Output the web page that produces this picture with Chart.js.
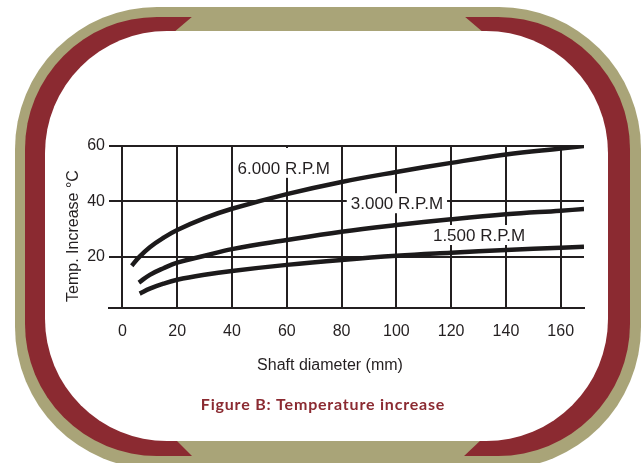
<!DOCTYPE html>
<html>
<head>
<meta charset="utf-8">
<script src="https://cdn.jsdelivr.net/npm/chart.js@4.4.1/dist/chart.umd.min.js"></script>
<style>
  html, body { margin: 0; padding: 0; background: #ffffff; overflow: hidden; }
  canvas { display: block; }
</style>
</head>
<body>
<canvas id="tempChart" width="643" height="463"></canvas>
<script>
// Leitura aproximada das curvas (diâmetro do eixo em mm -> aumento de temperatura em °C)
const rpm6000X = [3.4, 6, 10, 15, 20, 30, 40, 60, 80, 100, 120, 140, 160, 168.5];
const rpm6000Y = [16.7, 19.7, 23.4, 26.8, 29.6, 33.9, 37.3, 42.6, 47.0, 50.6, 53.9, 56.9, 59.1, 60.0];

const rpm3000X = [6.0, 10, 15, 20, 30, 40, 60, 80, 100, 120, 140, 160, 168.5];
const rpm3000Y = [10.6, 13.4, 15.8, 17.8, 20.3, 22.7, 26.0, 29.0, 31.4, 33.5, 35.3, 36.6, 37.2];

const rpm1500X = [6.3, 10, 15, 20, 30, 40, 60, 80, 100, 120, 140, 160, 168.5];
const rpm1500Y = [6.6, 8.4, 10.2, 11.6, 13.4, 14.8, 17.0, 18.8, 20.3, 21.4, 22.4, 23.2, 23.6];

const xTickValues = [0, 20, 40, 60, 80, 100, 120, 140, 160];
const yTickValues = [20, 40, 60];

const curveLabels = ['6.000 R.P.M', '3.000 R.P.M', '1.500 R.P.M'];
const curveLabelX = [58.9, 100.2, 130.2];
const curveLabelY = [52.1, 39.3, 27.8];

const INK = '#231f20';
const OLIVE = '#a9a478';
const WINE = '#8b2a31';

function toPoints(xs, ys) {
  return xs.map((x, i) => ({ x: x, y: ys[i] }));
}

function curve(xs, ys) {
  return {
    data: toPoints(xs, ys),
    borderColor: '#1c1a1b',
    borderWidth: 4.5,
    borderCapStyle: 'butt',
    pointRadius: 0,
    fill: false,
    tension: 0.4
  };
}

// moldura arredondada (oliva + vinho) atrás do gráfico
const framePlugin = {
  id: 'frame',
  beforeDraw(chart) {
    const ctx = chart.ctx;
    ctx.save();
    ctx.fillStyle = '#ffffff';
    ctx.fillRect(0, 0, chart.width, chart.height);

    ctx.fillStyle = OLIVE;
    ctx.beginPath();
    ctx.roundRect(15, 7, 626, 462, 142);
    ctx.fill();

    ctx.fillStyle = WINE;
    ctx.beginPath();
    ctx.roundRect(25, 17, 605, 439, 132);
    ctx.fill();

    // faixas oliva no meio do topo e da base
    ctx.fillStyle = OLIVE;
    ctx.beginPath();
    ctx.moveTo(193, 16); ctx.lineTo(464, 16); ctx.lineTo(484, 33); ctx.lineTo(173, 33);
    ctx.closePath();
    ctx.fill();
    ctx.beginPath();
    ctx.moveTo(175, 439); ctx.lineTo(482, 439); ctx.lineTo(463, 457); ctx.lineTo(193, 457);
    ctx.closePath();
    ctx.fill();

    ctx.fillStyle = '#ffffff';
    ctx.beginPath();
    ctx.roundRect(45, 31, 563, 410, 122);
    ctx.fill();
    ctx.restore();
  }
};

// rótulos das curvas com fundo branco + títulos
const textPlugin = {
  id: 'texts',
  beforeDatasetsDraw(chart) {
    const ctx = chart.ctx;
    const xs = chart.scales.x;
    const ys = chart.scales.y;
    ctx.save();
    ctx.font = '17px "Liberation Sans", Arial, sans-serif';
    ctx.textAlign = 'center';
    ctx.textBaseline = 'middle';
    curveLabels.forEach((txt, i) => {
      const cx = xs.getPixelForValue(curveLabelX[i]);
      const cy = ys.getPixelForValue(curveLabelY[i]);
      const w = ctx.measureText(txt).width;
      let top = cy - 10;
      if (top - chart.chartArea.top < 16) top = chart.chartArea.top + 2;
      ctx.fillStyle = '#ffffff';
      ctx.fillRect(cx - w / 2 - 4, top, w + 8, cy + 10 - top);
      ctx.fillStyle = INK;
      ctx.fillText(txt, cx, cy + 1);
    });
    ctx.restore();
  },
  afterDraw(chart) {
    const ctx = chart.ctx;
    ctx.save();
    ctx.fillStyle = INK;
    ctx.font = '16px "Liberation Sans", Arial, sans-serif';
    ctx.textAlign = 'center';
    ctx.textBaseline = 'alphabetic';
    ctx.fillText('Shaft diameter (mm)', 330, 370);

    ctx.translate(78, 236);
    ctx.rotate(-Math.PI / 2);
    ctx.fillText('Temp. Increase °C', 0, 0);
    ctx.restore();

    ctx.save();
    ctx.fillStyle = WINE;
    ctx.font = 'bold 16px Lato, "Open Sans", sans-serif';
    ctx.letterSpacing = '0.8px';
    ctx.textAlign = 'center';
    ctx.textBaseline = 'alphabetic';
    ctx.fillText('Figure B: Temperature increase', 323, 410);
    ctx.restore();
  }
};

const ctx = document.getElementById('tempChart').getContext('2d');

new Chart(ctx, {
  type: 'line',
  data: {
    datasets: [
      curve(rpm6000X, rpm6000Y),
      curve(rpm3000X, rpm3000Y),
      curve(rpm1500X, rpm1500Y)
    ]
  },
  options: {
    responsive: false,
    animation: false,
    layout: { padding: { left: 0, top: 146, right: 59, bottom: 105 } },
    plugins: {
      legend: { display: false },
      tooltip: { enabled: false }
    },
    scales: {
      x: {
        type: 'linear',
        min: -4.9,
        max: 168.5,
        afterBuildTicks: (scale) => { scale.ticks = xTickValues.map(v => ({ value: v })); },
        afterFit: (scale) => { scale.height = 50; },
        grid: { color: INK, lineWidth: 2, drawTicks: false },
        border: { display: true, color: INK, width: 2 },
        ticks: {
          color: INK,
          padding: 14,
          maxRotation: 0,
          font: { family: '"Liberation Sans", Arial, sans-serif', size: 16 }
        }
      },
      y: {
        type: 'linear',
        min: 1.4,
        max: 60,
        afterBuildTicks: (scale) => { scale.ticks = yTickValues.map(v => ({ value: v })); },
        afterFit: (scale) => { scale.width = 109; },
        grid: { color: INK, lineWidth: 2, drawTicks: false },
        border: { display: false },
        ticks: {
          color: INK,
          padding: 4,
          font: { family: '"Liberation Sans", Arial, sans-serif', size: 16 }
        }
      }
    }
  },
  plugins: [framePlugin, textPlugin]
});
</script>
</body>
</html>
